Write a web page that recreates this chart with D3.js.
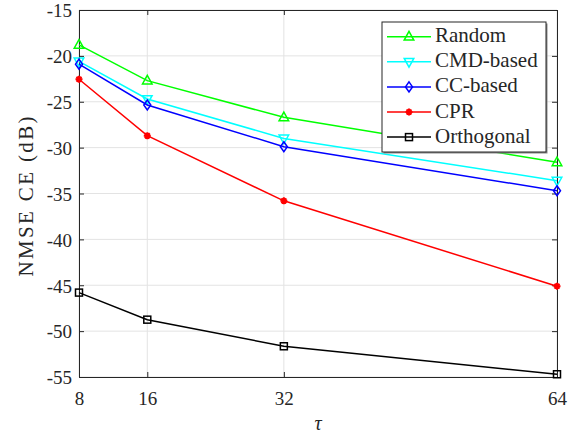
<!DOCTYPE html>
<html><head><meta charset="utf-8">
<script src="https://cdn.jsdelivr.net/npm/d3@7"></script>
<style>body{margin:0;background:#fff}svg{display:block}svg text{font-family:"Liberation Serif","DejaVu Serif",serif !important;fill:#262626}</style>
</head><body><svg id="c" width="576" height="439"></svg>
<script>
const xValues = [8, 16, 32, 64];
const xTickLabels = ["8", "16", "32", "64"];
const yTicks = [-55, -50, -45, -40, -35, -30, -25, -20, -15];
const seriesNames = ["Random", "CMD-based", "CC-based", "CPR", "Orthogonal"];
const randomVals = [-18.8, -22.7, -26.7, -31.6];
const cmdVals = [-20.6, -24.7, -29.0, -33.6];
const ccVals = [-20.9, -25.35, -29.9, -34.7];
const cprVals = [-22.55, -28.7, -35.8, -45.1];
const orthVals = [-45.8, -48.75, -51.65, -54.7];
const colors = ["#00ff00", "#00ffff", "#0000ff", "#ff0000", "#000000"];
const markers = ["triUp", "triDown", "diamond", "star", "square"];
const allVals = [randomVals, cmdVals, ccVals, cprVals, orthVals];

const FONT = '"Liberation Serif", "DejaVu Serif", serif';
const svg = d3.select("#c");
const L = 79, R = 557, T = 10, B = 377;
const x = d3.scaleLinear().domain([8, 64]).range([L, R]);
const y = d3.scaleLinear().domain([-55, -15]).range([B, T]);
const axisCol = "#262626";

// grid
const g = svg.append("g");
g.selectAll(".vg").data(xValues).enter().append("line")
  .attr("x1", d => x(d)).attr("x2", d => x(d)).attr("y1", T).attr("y2", B)
  .attr("stroke", "#e3e3e3").attr("stroke-width", 1);
g.selectAll(".hg").data(yTicks).enter().append("line")
  .attr("x1", L).attr("x2", R).attr("y1", d => y(d)).attr("y2", d => y(d))
  .attr("stroke", "#e3e3e3").attr("stroke-width", 1);

// axes
const xAxis = d3.axisBottom(x).tickValues(xValues).tickFormat((d, i) => xTickLabels[i]).tickSizeInner(-5).tickSizeOuter(0).tickPadding(14.5);
const yAxis = d3.axisLeft(y).tickValues(yTicks).tickFormat(d => d).tickSizeInner(-5).tickSizeOuter(0).tickPadding(7);
const gx = svg.append("g").attr("transform", `translate(0,${B})`).call(xAxis);
const gy = svg.append("g").attr("transform", `translate(${L},0)`).call(yAxis);
const gx2 = svg.append("g").attr("transform", `translate(0,${T})`).call(d3.axisTop(x).tickValues(xValues).tickFormat("").tickSizeInner(-5).tickSizeOuter(0));
const gy2 = svg.append("g").attr("transform", `translate(${R},0)`).call(d3.axisRight(y).tickValues(yTicks).tickFormat("").tickSizeInner(-5).tickSizeOuter(0));
[gx, gy, gx2, gy2].forEach(a => {
  a.attr("font-family", FONT).attr("font-size", 19);
  a.select(".domain").attr("stroke", axisCol).attr("stroke-width", 1);
  a.selectAll(".tick line").attr("stroke", axisCol);
  a.selectAll(".tick text").attr("font-size", 19).attr("fill", axisCol).attr("font-family", FONT);
});
gy.selectAll(".tick text").attr("dy", "0.36em");

// labels
svg.append("text").attr("x", 318).attr("y", 430).attr("text-anchor", "middle")
  .attr("font-size", 20).attr("font-style", "italic").text("τ");
svg.append("text").attr("transform", `translate(33,196.5) rotate(-90)`)
  .attr("text-anchor", "middle").attr("font-size", 21)
  .attr("textLength", 160).attr("lengthAdjust", "spacing").text("NMSE CE (dB)");

function drawMarker(sel, type, cx, cy, col) {
  const s = 4.8;
  if (type === "triUp") {
    sel.append("path").attr("d", `M${cx},${cy - s - 0.5}L${cx + s},${cy + s * 0.7}L${cx - s},${cy + s * 0.7}Z`).attr("fill", "none").attr("stroke", col).attr("stroke-width", 1.5);
  } else if (type === "triDown") {
    sel.append("path").attr("d", `M${cx},${cy + s + 0.5}L${cx + s},${cy - s * 0.7}L${cx - s},${cy - s * 0.7}Z`).attr("fill", "none").attr("stroke", col).attr("stroke-width", 1.5);
  } else if (type === "diamond") {
    sel.append("path").attr("d", `M${cx},${cy - 5}L${cx + 3.5},${cy}L${cx},${cy + 5}L${cx - 3.5},${cy}Z`).attr("fill", "none").attr("stroke", col).attr("stroke-width", 1.5);
  } else if (type === "star") {
    const r = 3.5;
    let p = "";
    for (let k = 0; k < 4; k++) {
      const a = k * Math.PI / 4;
      p += `M${cx - r * Math.cos(a)},${cy - r * Math.sin(a)}L${cx + r * Math.cos(a)},${cy + r * Math.sin(a)}`;
    }
    sel.append("path").attr("d", p).attr("stroke", col).attr("stroke-width", 2);
    sel.append("circle").attr("cx", cx).attr("cy", cy).attr("r", 2.2).attr("fill", col);
  } else if (type === "square") {
    sel.append("rect").attr("x", cx - 3.5).attr("y", cy - 3.5).attr("width", 7).attr("height", 7).attr("fill", "none").attr("stroke", col).attr("stroke-width", 1.5);
  }
}

const line = d3.line().x((d, i) => x(xValues[i])).y(d => y(d));
allVals.forEach((vals, si) => {
  const gs = svg.append("g");
  gs.append("path").datum(vals).attr("d", line).attr("fill", "none").attr("stroke", colors[si]).attr("stroke-width", 1.5);
  vals.forEach((v, i) => drawMarker(gs, markers[si], x(xValues[i]), y(v), colors[si]));
});

// legend
const lg = svg.append("g");
lg.append("rect").attr("x", 383.5).attr("y", 23.5).attr("width", 164).attr("height", 130).attr("fill", "#888");
lg.append("rect").attr("x", 382).attr("y", 22).attr("width", 164).attr("height", 130).attr("fill", "#fff").attr("stroke", "#262626").attr("stroke-width", 1);
seriesNames.forEach((n, i) => {
  const cy = 36.7 + i * 25.1;
  lg.append("line").attr("x1", 387).attr("x2", 431).attr("y1", cy).attr("y2", cy).attr("stroke", colors[i]).attr("stroke-width", 1.5);
  drawMarker(lg, markers[i], 409, cy, colors[i]);
  lg.append("text").attr("x", 435).attr("y", cy + 5.5).attr("font-size", 21).text(n);
});
</script></body></html>
